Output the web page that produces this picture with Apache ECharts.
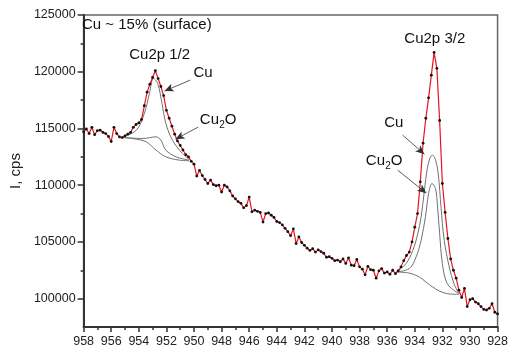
<!DOCTYPE html>
<html>
<head>
<meta charset="utf-8">
<script src="https://cdn.jsdelivr.net/npm/echarts@6/dist/echarts.min.js"></script>
<style>
  html, body { margin: 0; padding: 0; background: #fff; }
  #chart { width: 511px; height: 348px; }
</style>
</head>
<body>
<div id="chart"></div>
<script>
// Cu 2p XPS spectrum, binding energy 958 -> 928 eV in 0.2 eV steps
const E_START = 958;
const E_STEP = 0.2;
const counts = [
  114700, 114950, 114550, 115100, 114450, 114800, 114850, 114650, 114550, 114300,
  113850, 115100, 114550, 114250, 114200, 114350, 114500, 114650, 115100, 115350,
  115500, 115800, 117000, 118200, 118900, 119500, 120100, 119400, 118700, 117900,
  116600, 115900, 115200, 114500, 113900, 113500, 113100, 112700, 112500, 112100,
  111850, 110800, 111300, 110850, 110500, 110150, 110450, 110050, 109950, 110000,
  109400, 110000, 109850, 109500, 109050, 108800, 108550, 108400, 108000, 108200,
  108950, 107650, 107800, 107700, 107600, 106750, 107500, 107550, 107350, 107150,
  106800, 106700, 106500, 106200, 105900, 105550, 106150, 104850, 105450, 104950,
  104700, 104450, 104250, 104400, 104100, 104300, 104150, 104000, 103650, 103700,
  103550, 103350, 103400, 103250, 103500, 103100, 103600, 102950, 102900, 103450,
  102800, 102600, 102100, 102850, 102550, 102500, 101800, 102450, 102650, 102250,
  102350, 102150, 102500, 102200, 102450, 102800, 103350, 103800, 104100, 105000,
  106300, 107500, 110300, 113700, 115900, 117700, 119700, 121700, 120300, 115700,
  110150, 107600, 105300, 103500, 102500, 101800, 100750, 100100, 100900, 99300,
  99900, 100000, 99700, 99550, 99300, 99050, 99000, 99150, 99550, 98800,
  98650
];
const energies = counts.map((_, i) => +(E_START - i * E_STEP).toFixed(1));
const spectrum = energies.map((e, i) => [e, counts[i]]);

// Cu2p 1/2 fit: background and component curves [eV, cps]
const bg12 = [[955.26, 114210], [954.4, 114100], [953.47, 113820], [952.75, 113090],
              [952.04, 112500], [951.08, 112210], [950.36, 112150]];
const cu2o12 = [[955.26, 114210], [953.7, 114120], [952.75, 114260], [952.4, 113970],
                [952.04, 113090], [951.3, 112500], [950.36, 112210]];
const cu12 = [[955.26, 114210], [954.18, 114850], [953.6, 116320], [953.23, 118090],
              [952.94, 119410], [952.63, 118970], [952.32, 117210], [952.04, 115440],
              [951.56, 113970], [950.84, 112790], [950.25, 112210]];

// Cu2p 3/2 fit: background and component curves [eV, cps]
const bg32 = [[935.35, 102350], [934.4, 102250], [933.66, 101900], [933.18, 101450],
              [932.7, 101030], [932.24, 100680], [931.64, 100440], [930.8, 100380]];
const cu32 = [[935.35, 102350], [934.63, 103090], [934.14, 104260], [933.78, 105740],
              [933.54, 107200], [933.3, 109560], [933.1, 111400], [932.9, 112400],
              [932.72, 112650], [932.5, 112250], [932.3, 111000], [932.1, 108100],
              [931.87, 105150], [931.5, 102790], [931.16, 101320], [930.8, 100440]];
const cu2o32 = [[935.35, 102350], [934.4, 102650], [933.9, 103680], [933.54, 105150],
                [933.23, 107200], [933.0, 109270], [932.75, 110150], [932.5, 109710],
                [932.35, 108090], [932.2, 105740], [932.0, 103090], [931.65, 101320],
                [931.0, 100590], [930.8, 100440]];

// axis ticks
const yLabels = [100000, 105000, 110000, 115000, 120000, 125000];
const yMinor = [102500, 107500, 112500, 117500, 122500];

const FONT = '"Liberation Sans", Arial, sans-serif';
const AXIS_COLOR = '#333';

const chart = echarts.init(document.getElementById('chart'), null, { renderer: 'canvas' });

const fitLine = (data) => ({
  type: 'line', data, smooth: 0.35, symbol: 'none', z: 2, silent: true,
  lineStyle: { color: '#707070', width: 1 }
});

const arrow = (from, to) => [
  { coord: from, symbol: 'none' },
  { coord: to, symbol: 'arrow' }
];

chart.setOption({
  animation: false,
  grid: { left: 80, right: 12, top: 15, bottom: 21, show: true,
          borderColor: '#666', borderWidth: 1.5 },
  xAxis: {
    type: 'value', min: 928, max: 958, interval: 2, inverse: true,
    axisLine: { lineStyle: { color: AXIS_COLOR, width: 2 } },
    axisTick: { length: 5, lineStyle: { color: AXIS_COLOR, width: 1.5 } },
    minorTick: { show: true, splitNumber: 2, length: 3, lineStyle: { color: AXIS_COLOR, width: 1.5 } },
    axisLabel: { color: '#222', fontSize: 12.5, fontFamily: FONT, margin: 8 },
    splitLine: { show: false }
  },
  yAxis: [{
    type: 'value', min: 97500, max: 125000,
    name: 'I, cps', nameLocation: 'middle', nameGap: 58,
    nameTextStyle: { color: '#222', fontSize: 15, fontFamily: FONT },
    axisLine: { show: true, lineStyle: { color: AXIS_COLOR, width: 2 } },
    axisTick: { show: true, customValues: yLabels, length: 6, lineStyle: { color: AXIS_COLOR, width: 1.5 } },
    axisLabel: { customValues: yLabels, formatter: v => String(v),
                 color: '#222', fontSize: 12.5, fontFamily: FONT, margin: 8 },
    splitLine: { show: false }
  }, {
    type: 'value', min: 97500, max: 125000, position: 'left',
    axisLine: { show: false },
    axisTick: { show: true, customValues: yMinor, length: 3, lineStyle: { color: AXIS_COLOR, width: 1.5 } },
    axisLabel: { show: false },
    splitLine: { show: false }
  }],
  series: [
    fitLine(bg12), fitLine(cu2o12), fitLine(cu12),
    fitLine(bg32), fitLine(cu32), fitLine(cu2o32),
    {
      type: 'line', data: spectrum, z: 3,
      symbol: 'circle', symbolSize: 2.8,
      itemStyle: { color: '#111' },
      lineStyle: { color: '#e5141c', width: 1.2 },
      markLine: {
        silent: true, animation: false, symbolSize: [6, 9],
        label: { show: false },
        lineStyle: { color: '#333', width: 0.8, type: 'solid' },
        data: [
          arrow([950.27, 119264], [952.13, 118294]),
          arrow([949.70, 115117], [951.34, 114058]),
          arrow([934.88, 114411], [933.30, 112735]),
          arrow([935.24, 111323], [933.16, 109293])
        ]
      }
    }
  ]
});

// text annotations placed in data coordinates
const textStyle = { fill: '#111', fontSize: 15, fontFamily: FONT };
const label = (text, x, y, align, size) => ({
  type: 'text', silent: true, z: 10,
  style: Object.assign({}, textStyle, {
    text, x, y, align: align || 'center', verticalAlign: 'middle', fontSize: size || 15
  })
});
const toPx = at => chart.convertToPixel({ xAxisIndex: 0, yAxisIndex: 0 }, at);

const notes = [
  { text: 'Cu2p 1/2', at: [952.49, 121470] },
  { text: 'Cu2p 3/2', at: [932.55, 122882] },
  { text: 'Cu', at: [949.34, 119882] },
  { text: 'Cu', at: [935.52, 115470] }
];
const oxideNotes = [[948.27, 115735], [936.24, 112117]];

const elements = notes.map(n => {
  const p = toPx(n.at);
  return label(n.text, p[0], p[1]);
});
// "Cu2O" with a lowered subscript 2
oxideNotes.forEach(at => {
  const p = toPx(at);
  const left = p[0] - 18;
  elements.push(label('Cu', left, p[1], 'left'));
  elements.push(label('2', left + 19.5, p[1] + 5, 'left', 10));
  elements.push(label('O', left + 25, p[1], 'left'));
});
elements.push(label('Cu ~ 15% (surface)', 82, 25, 'left'));
chart.setOption({ graphic: elements });
</script>
</body>
</html>
